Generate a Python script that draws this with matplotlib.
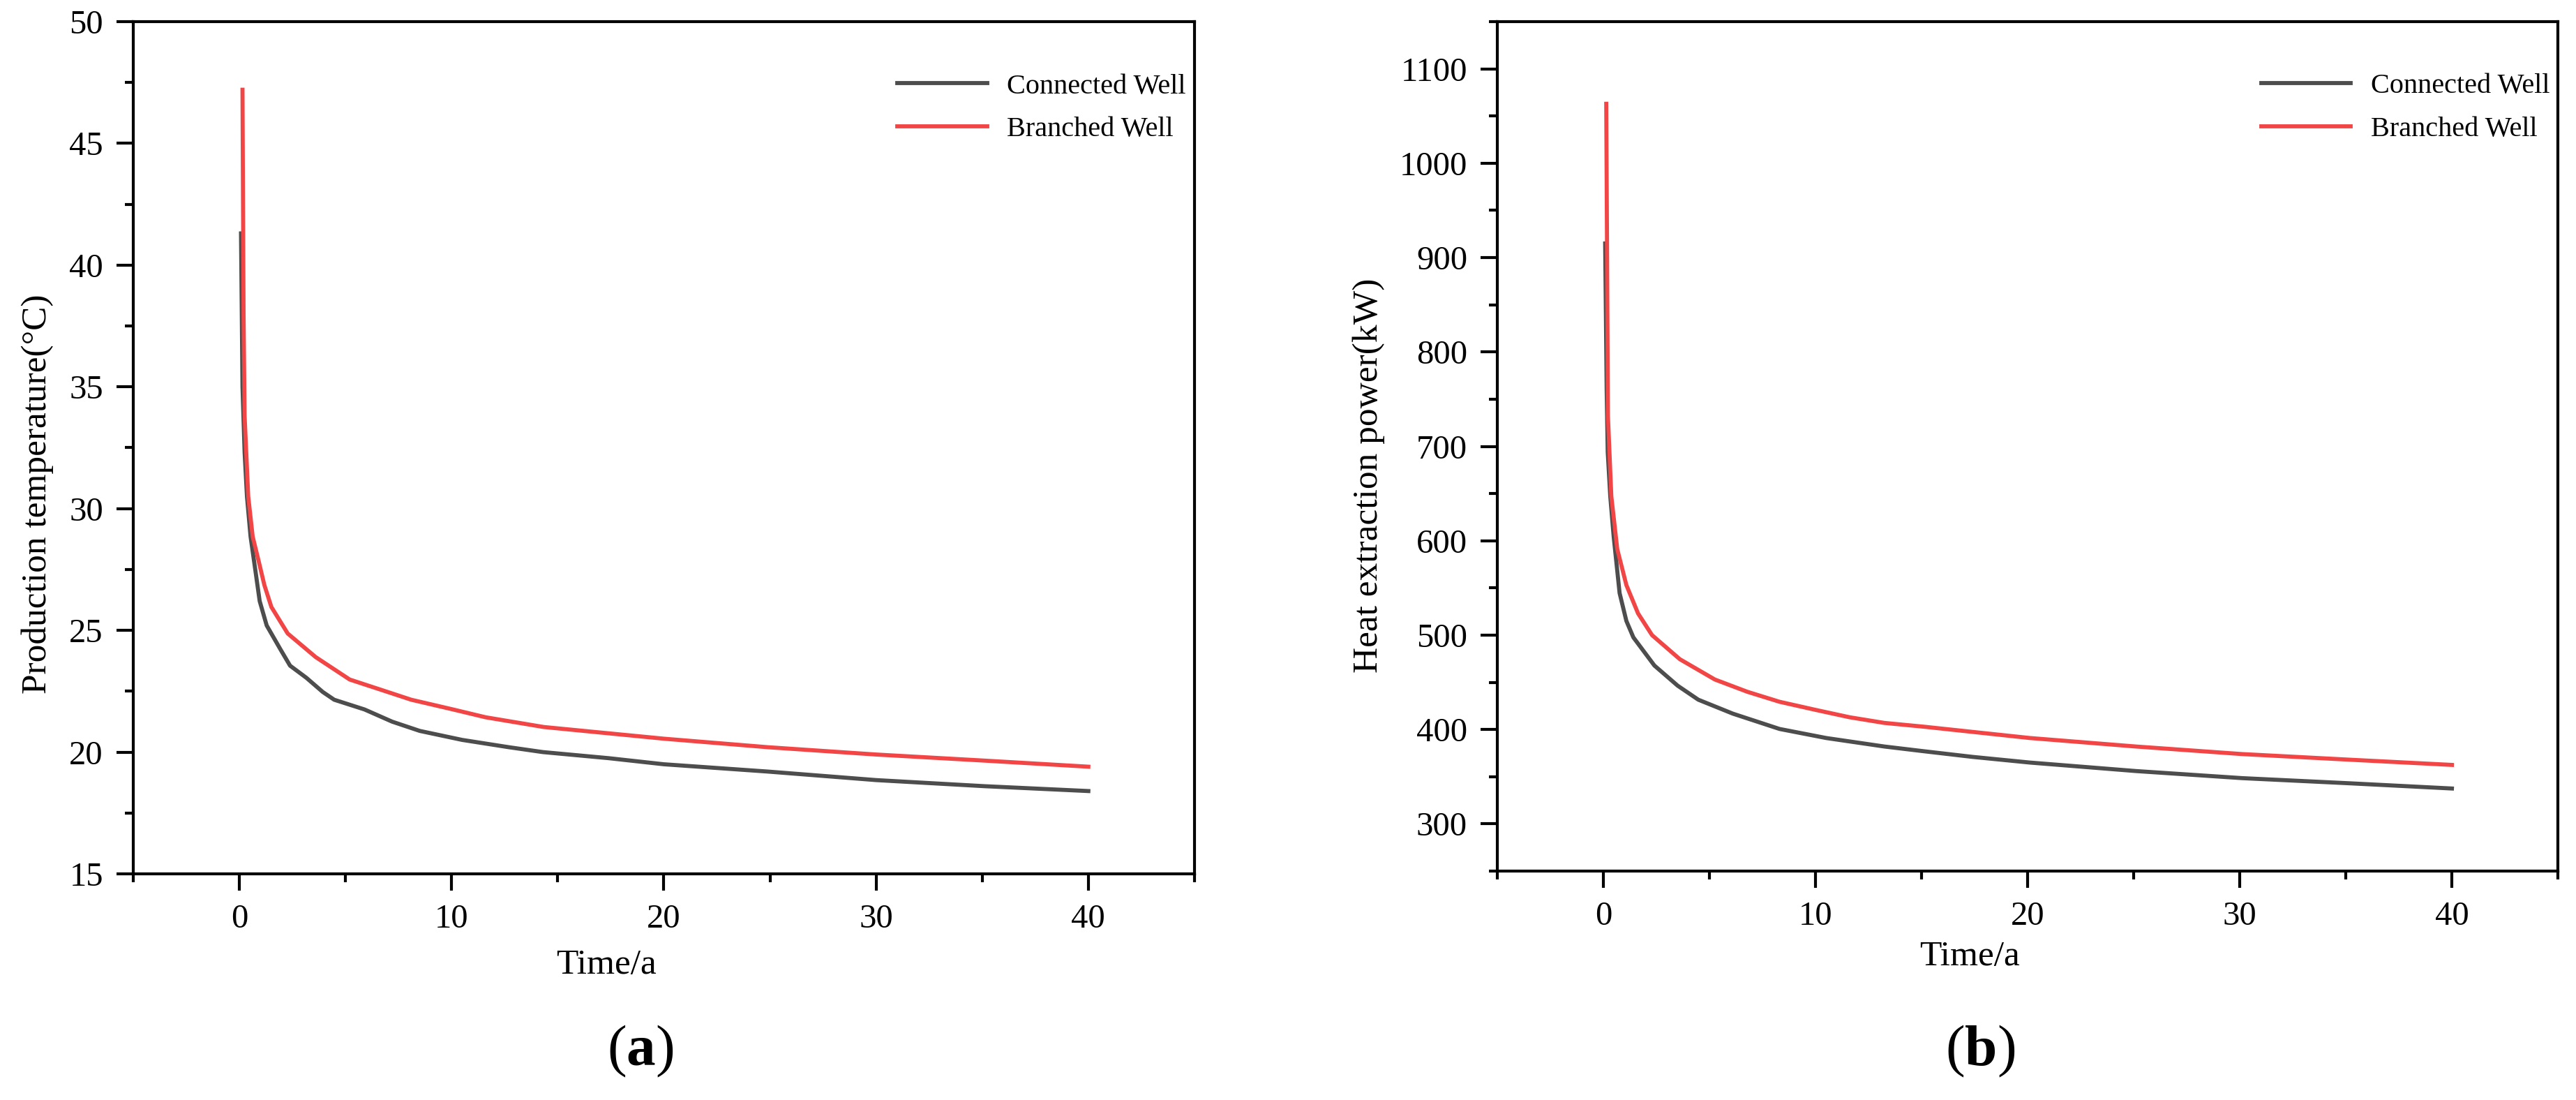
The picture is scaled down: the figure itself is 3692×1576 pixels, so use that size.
import numpy as np
import matplotlib
matplotlib.use('Agg')
import matplotlib.pyplot as plt
from matplotlib.ticker import MultipleLocator

plt.rcParams['font.family'] = ['Liberation Serif', 'DejaVu Serif']
plt.rcParams['mathtext.fontset'] = 'custom'
plt.rcParams['mathtext.rm'] = 'Liberation Serif'
plt.rcParams['mathtext.bf'] = 'Liberation Serif:bold'

# (a) production temperature, deg C
t_conn_a = [0.08, 0.15, 0.25, 0.36, 0.53, 0.75, 0.96, 1.29, 1.95, 2.39, 3.16, 3.93, 4.47,
            5.9, 7.2, 8.5, 10.5, 12.7, 14.3, 17.4, 20.0, 24.9, 30.0, 35.1, 40.0]
temp_conn = [41.3, 35.0, 32.3, 30.5, 28.85, 27.5, 26.2, 25.2, 24.2, 23.55, 23.05, 22.47, 22.15,
             21.75, 21.25, 20.87, 20.5, 20.2, 20.0, 19.75, 19.5, 19.2, 18.85, 18.6, 18.4]
t_bran_a = [0.15, 0.2, 0.25, 0.42, 0.63, 0.91, 1.18, 1.51, 2.28, 3.6, 5.2, 6.67, 8.1,
            10.07, 11.6, 14.34, 20.0, 24.9, 30.0, 35.1, 40.0]
temp_bran = [47.2, 38.0, 33.8, 30.5, 28.85, 27.85, 26.86, 25.96, 24.87, 23.9, 22.98, 22.56, 22.15,
             21.75, 21.43, 21.03, 20.55, 20.2, 19.9, 19.65, 19.4]

# (b) heat extraction power, kW
t_conn_b = [0.08, 0.15, 0.2, 0.32, 0.48, 0.76, 1.08, 1.41, 2.4, 3.5, 4.47, 6.1, 8.3,
            10.5, 13.24, 15.1, 17.4, 20.1, 25.1, 30.1, 35.2, 40.0]
pow_conn = [915, 760, 694, 647, 604.6, 544.5, 515, 497.6, 467.8, 446.4, 431.6, 416.8, 400.6,
            391, 382, 377, 371, 365, 356, 348.5, 343, 337.5]
t_bran_b = [0.13, 0.17, 0.21, 0.37, 0.65, 1.08, 1.63, 2.29, 3.6, 5.25, 6.78, 8.3, 9.96,
            11.6, 13.24, 15.1, 20.1, 25.1, 30.1, 35.2, 40.0]
pow_bran = [1063, 900, 732, 647, 591, 553, 523, 500, 474.5, 453, 440, 429.4, 421,
            413, 407, 403, 391, 382, 374, 368, 362.5]

labels = ['Connected Well', 'Branched Well']
c_conn = '#4d4d4d'
c_bran = '#f24646'

fig = plt.figure(figsize=(36.92, 15.76), dpi=100)
ax1 = fig.add_axes([0.0517, 0.2056, 0.412, 0.7748])
ax2 = fig.add_axes([0.5813, 0.2081, 0.4117, 0.7722])


def style(ax):
    for s in ax.spines.values():
        s.set_linewidth(3)
    ax.tick_params(which='both', direction='out', width=3, top=False, right=False)
    ax.tick_params(which='major', length=17, labelsize=35)
    ax.tick_params(which='minor', length=8.5)
    ax.tick_params(axis='y', which='major', pad=14)
    ax.tick_params(axis='x', which='major', pad=14)
    ax.xaxis.set_major_locator(MultipleLocator(10))
    ax.xaxis.set_minor_locator(MultipleLocator(5))
    ax.set_xlim(-5, 45)


ax1.plot(t_conn_a, temp_conn, color=c_conn, lw=4.2, label=labels[0])
ax1.plot(t_bran_a, temp_bran, color=c_bran, lw=4.2, label=labels[1])
style(ax1)
ax1.set_ylim(15, 50)
ax1.yaxis.set_major_locator(MultipleLocator(5))
ax1.yaxis.set_minor_locator(MultipleLocator(2.5))
ax1.set_xlabel('Time/a', fontsize=37)
ax1.set_ylabel('Production temperature(°C)', fontsize=37)
ax1.xaxis.set_label_coords(0.446, -0.088)
ax1.yaxis.set_label_coords(-0.075, 0.4455)

ax2.plot(t_conn_b, pow_conn, color=c_conn, lw=4.2, label=labels[0])
ax2.plot(t_bran_b, pow_bran, color=c_bran, lw=4.2, label=labels[1])
style(ax2)
ax2.set_ylim(250, 1150)
ax2.yaxis.set_major_locator(MultipleLocator(100))
ax2.yaxis.set_minor_locator(MultipleLocator(50))
ax2.set_xlabel('Time/a', fontsize=37)
ax2.set_ylabel('Heat extraction power(kW)', fontsize=37)
ax2.xaxis.set_label_coords(0.445, -0.082)
ax2.yaxis.set_label_coords(-0.106, 0.466)

for ax in (ax1, ax2):
    ax.legend(loc='upper left', bbox_to_anchor=(0.72, 0.939), frameon=False,
              fontsize=29, borderpad=0, borderaxespad=0, handlelength=3.2,
              handletextpad=0.7, labelspacing=0.6)

fig.text(0.2486, 0.0444, r'($\mathbf{a}$)', fontsize=60, ha='center', va='center')
fig.text(0.7687, 0.0444, r'($\mathbf{b}$)', fontsize=60, ha='center', va='center')

fig.savefig('out.png', dpi=100)
